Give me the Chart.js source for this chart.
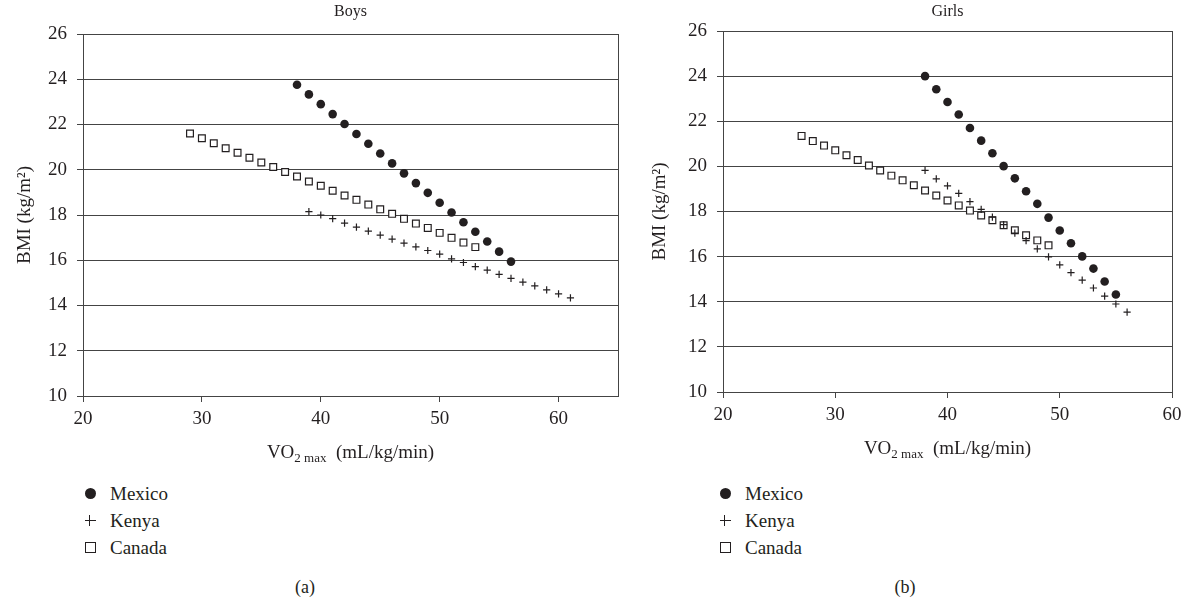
<!DOCTYPE html>
<html>
<head>
<meta charset="utf-8">
<script src="https://cdn.jsdelivr.net/npm/chart.js@4/dist/chart.umd.min.js"></script>
<style>
    body {
        margin: 0;
        background: #fff;
        width: 1188px;
        height: 602px;
        position: relative;
        overflow: hidden;
        font-family: "Liberation Serif", serif;
        color: #231f20;
    }
    .panel { position: absolute; top: 0; }
    #panel-a { left: 0; }
    #panel-b { left: 640px; }
    .legend { position: absolute; top: 480px; font-size: 19px; }
    #legend-a { left: 83px; }
    #legend-b { left: 718px; }
    .caption { position: absolute; top: 577px; font-size: 18px; width: 60px; text-align: center; }
    #caption-a { left: 275px; }
    #caption-b { left: 875px; }
</style>
</head>
<body>
<div class="panel" id="panel-a"><canvas id="chart-a" width="640" height="470"></canvas></div>
<div class="panel" id="panel-b"><canvas id="chart-b" width="548" height="470"></canvas></div>
<div class="legend" id="legend-a"></div>
<div class="legend" id="legend-b"></div>
<div class="caption" id="caption-a">(a)</div>
<div class="caption" id="caption-b">(b)</div>

<script>
// ---------------- data
const seriesNames = ['Mexico', 'Kenya', 'Canada'];
const xTickValues = [20, 30, 40, 50, 60];
const yTickValues = [10, 12, 14, 16, 18, 20, 22, 24, 26];

// Boys
const boysMexicoVO2 = [38, 39, 40, 41, 42, 43, 44, 45, 46, 47, 48, 49, 50, 51, 52, 53, 54, 55, 56];
const boysMexicoBMI = [23.76, 23.33, 22.9, 22.46, 22.02, 21.58, 21.15, 20.72, 20.28, 19.84, 19.41, 18.98, 18.54, 18.11, 17.68, 17.26, 16.83, 16.38, 15.94];
const boysKenyaVO2 = [39, 40, 41, 42, 43, 44, 45, 46, 47, 48, 49, 50, 51, 52, 53, 54, 55, 56, 57, 58, 59, 60, 61];
const boysKenyaBMI = [18.15, 18.0, 17.84, 17.64, 17.46, 17.29, 17.11, 16.93, 16.76, 16.59, 16.43, 16.27, 16.06, 15.9, 15.72, 15.56, 15.38, 15.2, 15.03, 14.87, 14.69, 14.51, 14.34];
const boysCanadaVO2 = [29, 30, 31, 32, 33, 34, 35, 36, 37, 38, 39, 40, 41, 42, 43, 44, 45, 46, 47, 48, 49, 50, 51, 52, 53];
const boysCanadaBMI = [21.6, 21.39, 21.17, 20.95, 20.75, 20.53, 20.32, 20.12, 19.9, 19.7, 19.48, 19.29, 19.07, 18.86, 18.67, 18.46, 18.25, 18.05, 17.83, 17.62, 17.43, 17.21, 16.99, 16.78, 16.58];

// Girls
const girlsMexicoVO2 = [38, 39, 40, 41, 42, 43, 44, 45, 46, 47, 48, 49, 50, 51, 52, 53, 54, 55];
const girlsMexicoBMI = [24.0, 23.42, 22.85, 22.3, 21.7, 21.14, 20.58, 20.01, 19.47, 18.9, 18.34, 17.73, 17.16, 16.59, 16.01, 15.47, 14.9, 14.32];
const girlsKenyaVO2 = [38, 39, 40, 41, 42, 43, 44, 45, 46, 47, 48, 49, 50, 51, 52, 53, 54, 55, 56];
const girlsKenyaBMI = [19.82, 19.45, 19.14, 18.8, 18.44, 18.09, 17.75, 17.42, 17.04, 16.71, 16.34, 15.99, 15.63, 15.29, 14.96, 14.61, 14.25, 13.9, 13.54];
const girlsCanadaVO2 = [27, 28, 29, 30, 31, 32, 33, 34, 35, 36, 37, 38, 39, 40, 41, 42, 43, 44, 45, 46, 47, 48, 49];
const girlsCanadaBMI = [21.35, 21.12, 20.92, 20.71, 20.49, 20.28, 20.04, 19.82, 19.59, 19.38, 19.16, 18.93, 18.71, 18.49, 18.27, 18.04, 17.82, 17.61, 17.39, 17.17, 16.95, 16.72, 16.5];

const ink = '#231f20';
const gridInk = '#444';
const serif = '"Liberation Serif", "Times New Roman", serif';

const toPoints = (xs, ys) => xs.map((x, i) => ({ x: x, y: ys[i] }));

// ---------------- HTML legend plugin
const getOrCreateLegendList = (id) => {
    const legendContainer = document.getElementById(id);
    let listContainer = legendContainer.querySelector('ul');
    if (!listContainer) {
        listContainer = document.createElement('ul');
        listContainer.style.listStyle = 'none';
        listContainer.style.margin = 0;
        listContainer.style.padding = 0;
        legendContainer.appendChild(listContainer);
    }
    return listContainer;
};

const markerCss = {
    circle: 'width:11px;height:11px;border-radius:50%;background:' + ink + ';',
    cross: 'width:11px;height:11px;background:' +
        'linear-gradient(' + ink + ',' + ink + ') center/11px 1.3px no-repeat,' +
        'linear-gradient(' + ink + ',' + ink + ') center/1.3px 11px no-repeat;',
    rect: 'width:11px;height:11px;box-sizing:border-box;border:1.3px solid ' + ink + ';background:#fff;'
};

const htmlLegendPlugin = {
    id: 'htmlLegend',
    afterUpdate(chart, args, options) {
        const ul = getOrCreateLegendList(options.containerID);
        while (ul.firstChild) {
            ul.firstChild.remove();
        }
        chart.data.datasets.forEach(ds => {
            const li = document.createElement('li');
            li.style.display = 'flex';
            li.style.alignItems = 'center';
            li.style.height = '27px';

            const box = document.createElement('span');
            box.style.cssText = 'display:inline-block;margin:0 1.5px;' + markerCss[ds.pointStyle];

            const holder = document.createElement('span');
            holder.style.cssText = 'display:inline-flex;width:14px;justify-content:center;margin-right:13px;';
            holder.appendChild(box);

            const text = document.createElement('span');
            text.textContent = ds.label;

            li.appendChild(holder);
            li.appendChild(text);
            ul.appendChild(li);
        });
    }
};

// ---------------- panel title, x title with subscript, right frame line
const panelTextPlugin = {
    id: 'panelText',
    afterDraw(chart, args, opts) {
        const { ctx, chartArea } = chart;
        const cx = (chartArea.left + chartArea.right) / 2;
        ctx.save();

        // right frame line
        ctx.strokeStyle = gridInk;
        ctx.lineWidth = 1;
        ctx.beginPath();
        ctx.moveTo(Math.round(chartArea.right) + 0.5, chartArea.top);
        ctx.lineTo(Math.round(chartArea.right) + 0.5, chartArea.bottom);
        ctx.stroke();

        ctx.fillStyle = ink;
        ctx.textAlign = 'center';
        ctx.textBaseline = 'middle';
        ctx.font = '16px ' + serif;
        ctx.fillText(opts.title, cx, opts.titleY);

        // VO2 max (mL/kg/min)
        const big = '19px ' + serif;
        const small = '13px ' + serif;
        ctx.textAlign = 'left';
        ctx.textBaseline = 'alphabetic';
        ctx.font = big;
        const wA = ctx.measureText('VO').width;
        const wC = ctx.measureText('  (mL/kg/min)').width;
        ctx.font = small;
        const wB = ctx.measureText('2 max').width;
        let x = cx - (wA + wB + wC) / 2;
        const base = chartArea.bottom + opts.xTitleOffset;
        ctx.font = big;
        ctx.fillText('VO', x, base);
        x += wA;
        ctx.font = small;
        ctx.fillText('2 max', x, base + 4);
        x += wB;
        ctx.font = big;
        ctx.fillText('  (mL/kg/min)', x, base);
        ctx.restore();
    }
};

function makeChart(canvasId, legendId, title, xMax, topPad, xHeight, rightPad, yTitlePad, mexico, kenya, canada) {
    const ctx = document.getElementById(canvasId);
    return new Chart(ctx, {
        type: 'scatter',
        data: {
            datasets: [
                {
                    label: seriesNames[0],
                    data: mexico,
                    pointStyle: 'circle',
                    pointRadius: 4.3,
                    backgroundColor: ink,
                    borderColor: ink,
                    borderWidth: 0
                },
                {
                    label: seriesNames[1],
                    data: kenya,
                    pointStyle: 'cross',
                    pointRadius: 3.6,
                    backgroundColor: ink,
                    borderColor: ink,
                    borderWidth: 1.2
                },
                {
                    label: seriesNames[2],
                    data: canada,
                    pointStyle: 'rect',
                    pointRadius: 4.8,
                    backgroundColor: '#fff',
                    borderColor: ink,
                    borderWidth: 1.2
                }
            ]
        },
        options: {
            responsive: false,
            animation: false,
            layout: {
                padding: { top: topPad, right: rightPad, bottom: 0, left: 0 }
            },
            plugins: {
                legend: { display: false },
                tooltip: { enabled: false },
                htmlLegend: { containerID: legendId },
                panelText: { title: title, titleY: 12, xTitleOffset: 62 }
            },
            scales: {
                x: {
                    type: 'linear',
                    min: 20,
                    max: xMax,
                    afterBuildTicks: (scale) => {
                        scale.ticks = xTickValues.map(v => ({ value: v }));
                    },
                    afterFit: (scale) => {
                        scale.height = xHeight;
                    },
                    ticks: {
                        color: ink,
                        padding: 6,
                        maxRotation: 0,
                        font: { family: serif, size: 19 }
                    },
                    grid: {
                        drawOnChartArea: false,
                        drawTicks: true,
                        tickLength: 6,
                        tickColor: gridInk
                    },
                    border: { display: true, color: gridInk, width: 1 }
                },
                y: {
                    min: 10,
                    max: 26,
                    afterBuildTicks: (scale) => {
                        scale.ticks = yTickValues.map(v => ({ value: v }));
                    },
                    afterFit: (scale) => {
                        scale.width = 83;
                    },
                    ticks: {
                        color: ink,
                        padding: 10,
                        font: { family: serif, size: 19 }
                    },
                    grid: {
                        color: gridInk,
                        lineWidth: 1,
                        tickLength: 6,
                        tickColor: gridInk
                    },
                    border: { display: true, color: gridInk, width: 1 },
                    title: {
                        display: true,
                        text: 'BMI (kg/m²)',
                        color: ink,
                        padding: { top: yTitlePad, bottom: 0 },
                        font: { family: serif, size: 19 }
                    }
                }
            }
        },
        plugins: [htmlLegendPlugin, panelTextPlugin]
    });
}

////////////////////////////////////////////// Boys
makeChart('chart-a', 'legend-a', 'Boys', 65, 34, 74, 22, 14,
    toPoints(boysMexicoVO2, boysMexicoBMI),
    toPoints(boysKenyaVO2, boysKenyaBMI),
    toPoints(boysCanadaVO2, boysCanadaBMI));

////////////////////////////////////////////// Girls
makeChart('chart-b', 'legend-b', 'Girls', 60, 31, 78, 16, 9,
    toPoints(girlsMexicoVO2, girlsMexicoBMI),
    toPoints(girlsKenyaVO2, girlsKenyaBMI),
    toPoints(girlsCanadaVO2, girlsCanadaBMI));
</script>
</body>
</html>
